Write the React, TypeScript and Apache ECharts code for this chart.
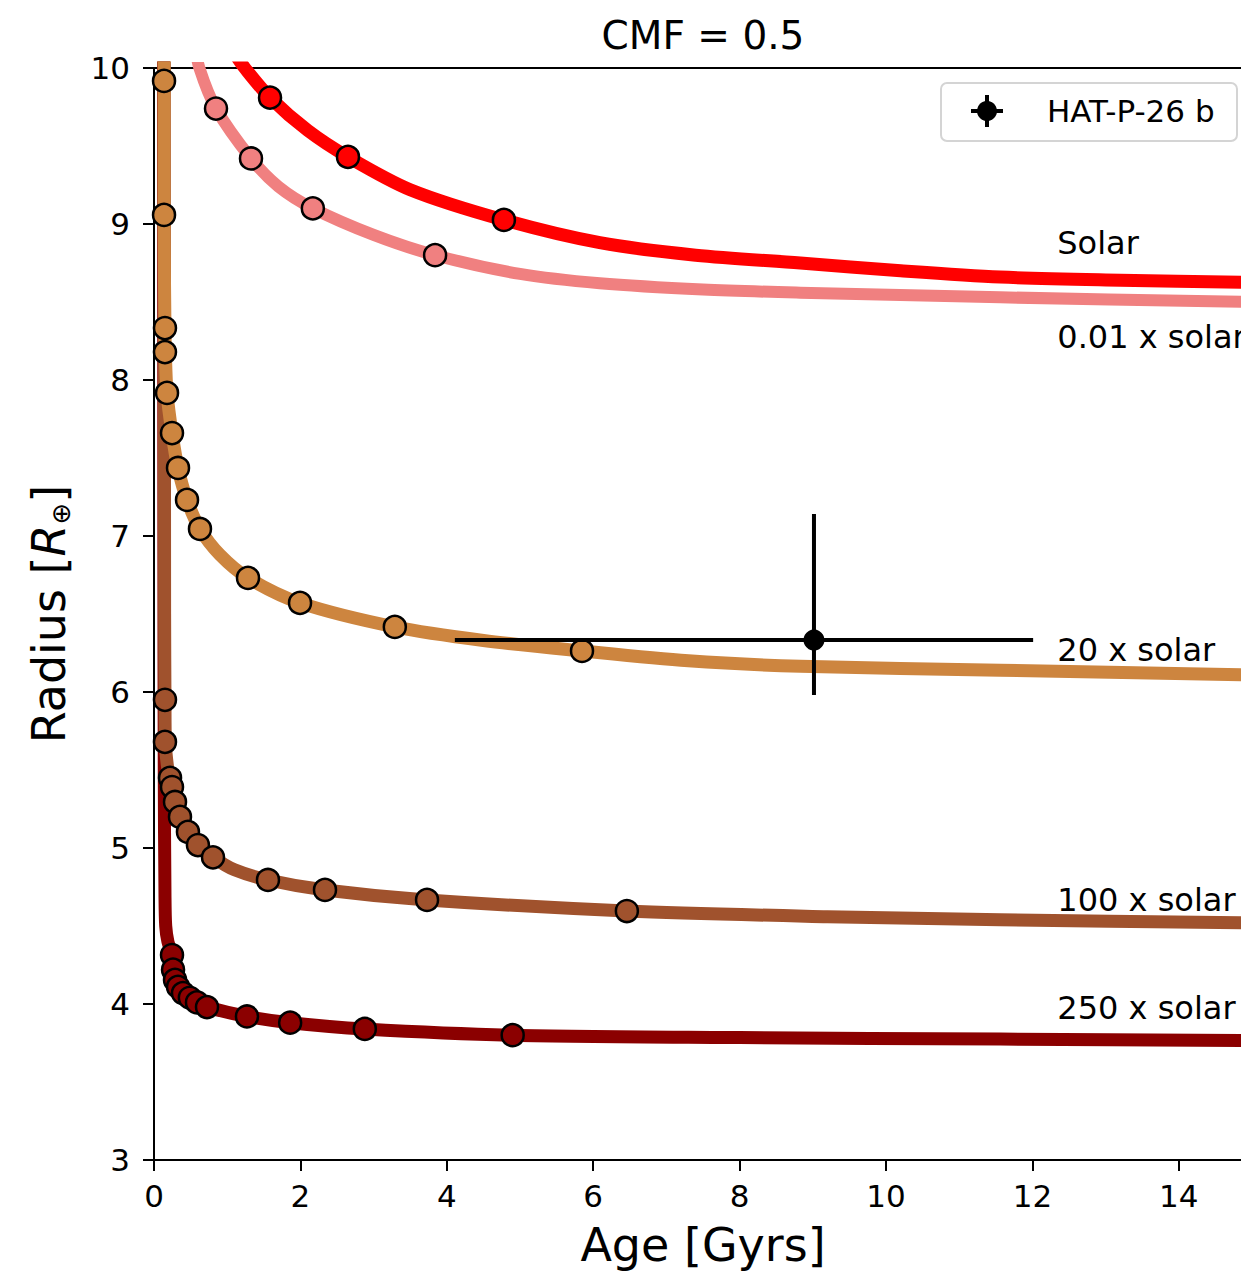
import React, { useEffect, useRef } from 'react';
import * as echarts from 'echarts';

// ---- data ----
const ageTicks = [0, 2, 4, 6, 8, 10, 12, 14];
const radiusTicks = [3, 4, 5, 6, 7, 8, 9, 10];

const curveNames = ['250 x solar', '100 x solar', '20 x solar', '0.01 x solar', 'Solar'];
const curveColors = ['#8b0000', '#a0522d', '#cd853f', '#f08080', '#ff0000'];
const curveWidths = [13, 13, 13, 12, 13];

const line250 = [[0.13, 10.3], [0.135, 7.0], [0.14, 5.5], [0.15, 4.7], [0.16, 4.5], [0.19, 4.4], [0.246, 4.314], [0.26, 4.22], [0.287, 4.154], [0.328, 4.11], [0.396, 4.07], [0.49, 4.04], [0.587, 4.01], [0.724, 3.98], [1.27, 3.92], [1.86, 3.88], [2.88, 3.84], [4.9, 3.8], [8.0, 3.785], [11.56, 3.775], [15, 3.765]];
const line100 = [[0.14, 10.3], [0.143, 8.0], [0.145, 6.5], [0.15, 5.95], [0.155, 5.68], [0.185, 5.52], [0.219, 5.449], [0.246, 5.391], [0.287, 5.295], [0.355, 5.199], [0.464, 5.103], [0.6, 5.019], [0.806, 4.94], [1.1, 4.86], [1.557, 4.795], [2.336, 4.731], [3.73, 4.667], [6.46, 4.596], [9.2, 4.56], [11.56, 4.54], [15, 4.52]];
const line20 = [[0.135, 10.3], [0.137, 9.917], [0.137, 9.058], [0.15, 8.333], [0.155, 8.179], [0.178, 7.917], [0.246, 7.66], [0.328, 7.436], [0.451, 7.231], [0.628, 7.045], [0.9, 6.88], [1.284, 6.731], [1.995, 6.571], [3.29, 6.417], [4.5, 6.33], [5.847, 6.263], [7.3, 6.2], [8.83, 6.165], [11.56, 6.14], [15, 6.11]];
const line001 = [[0.56, 10.15], [0.62, 10.0], [0.847, 9.74], [1.325, 9.42], [1.7, 9.24], [2.17, 9.1], [3.0, 8.93], [3.84, 8.8], [5.0, 8.68], [6.09, 8.62], [7.5, 8.58], [8.83, 8.56], [11.56, 8.53], [15, 8.5]];
const lineSolar = [[1.12, 10.08], [1.24, 10.0], [1.585, 9.81], [2.1, 9.6], [2.65, 9.43], [3.5, 9.22], [4.78, 9.026], [6.09, 8.88], [7.4, 8.8], [8.83, 8.75], [10.2, 8.7], [11.56, 8.66], [13.2, 8.64], [15, 8.625]];

const marks250 = [[0.246, 4.314], [0.26, 4.22], [0.287, 4.154], [0.328, 4.11], [0.396, 4.07], [0.49, 4.04], [0.587, 4.01], [0.724, 3.98], [1.27, 3.92], [1.86, 3.88], [2.88, 3.84], [4.9, 3.8]];
const marks100 = [[0.15, 5.95], [0.15, 5.68], [0.219, 5.449], [0.246, 5.391], [0.287, 5.295], [0.355, 5.199], [0.464, 5.103], [0.6, 5.019], [0.806, 4.94], [1.557, 4.795], [2.336, 4.731], [3.73, 4.667], [6.46, 4.596]];
const marks20 = [[0.137, 9.917], [0.137, 9.058], [0.15, 8.333], [0.15, 8.179], [0.178, 7.917], [0.246, 7.66], [0.328, 7.436], [0.451, 7.231], [0.628, 7.045], [1.284, 6.731], [1.995, 6.571], [3.29, 6.417], [5.847, 6.263]];
const marks001 = [[0.847, 9.74], [1.325, 9.42], [2.17, 9.1], [3.84, 8.8]];
const marksSolar = [[1.585, 9.81], [2.65, 9.43], [4.78, 9.026]];

const curveLines = [line250, line100, line20, line001, lineSolar];
const curveMarks = [marks250, marks100, marks20, marks001, marksSolar];

// label anchor positions [age, radius]
const labelAnchors = [[12.34, 3.974], [12.34, 4.667], [12.34, 6.269], [12.34, 8.276], [12.34, 8.878]];

// planet: [age, radius, ageLow, ageHigh, radiusLow, radiusHigh]
const planetName = 'HAT-P-26 b';
const planet = [9.016, 6.333, 4.11, 12.01, 5.98, 7.141];

const FONT = 'DejaVu Sans';

export default function App() {
  const ref = useRef<HTMLDivElement>(null);
  useEffect(() => {
    if (!ref.current) return;
    const chart = echarts.init(ref.current, null, { renderer: 'svg' });
    const series: any[] = [];
    curveNames.forEach((name, i) => {
      series.push({
        type: 'line',
        name,
        data: curveLines[i],
        showSymbol: false,
        smooth: 0.3,
        clip: true,
        z: 2 + i,
        lineStyle: { color: curveColors[i], width: curveWidths[i], cap: 'round', join: 'round' },
      });
    });
    curveNames.forEach((name, i) => {
      series.push({
        type: 'scatter',
        name: name + ' models',
        data: curveMarks[i],
        symbol: 'circle',
        symbolSize: 22,
        z: 10,
        itemStyle: { color: curveColors[i], borderColor: '#000', borderWidth: 2.5, opacity: 1 },
      });
    });
    series.push({
      type: 'scatter',
      name: 'labels',
      data: labelAnchors.map((p, i) => [p[0], p[1], curveNames[i]]),
      symbolSize: 0,
      itemStyle: { color: '#000', opacity: 1 },
      z: 20,
      label: {
        show: true,
        position: 'right',
        distance: 0,
        opacity: 1,
        formatter: (p: any) => p.data[2],
        fontFamily: FONT,
        fontSize: 32,
        color: '#000',
      },
    });
    series.push({
      type: 'custom',
      name: planetName + ' err',
      data: [planet],
      z: 30,
      renderItem: (params: any, api: any) => {
        const x = api.value(0), y = api.value(1);
        const pL = api.coord([api.value(2), y]);
        const pR = api.coord([api.value(3), y]);
        const pB = api.coord([x, api.value(4)]);
        const pT = api.coord([x, api.value(5)]);
        const st = { stroke: '#000', lineWidth: 4 };
        return {
          type: 'group',
          children: [
            { type: 'line', shape: { x1: pL[0], y1: pL[1], x2: pR[0], y2: pR[1] }, style: st },
            { type: 'line', shape: { x1: pB[0], y1: pB[1], x2: pT[0], y2: pT[1] }, style: st },
          ],
        };
      },
    });
    series.push({
      type: 'scatter',
      name: planetName,
      data: [[planet[0], planet[1]]],
      symbol: 'circle',
      symbolSize: 21,
      z: 31,
      itemStyle: { color: '#000', opacity: 1 },
    });

    const option: any = {
      animation: false,
      backgroundColor: '#fff',
      textStyle: { fontFamily: FONT },
      grid: { left: 154, top: 68, width: 1098, height: 1092, containLabel: false },
      xAxis: [
        {
          type: 'value',
          min: 0,
          max: 15,
          interval: 2,
          name: 'Age [Gyrs]',
          nameLocation: 'middle',
          nameGap: 62,
          nameTextStyle: { fontFamily: FONT, fontSize: 46, color: '#000' },
          axisLine: { show: true, onZero: false, lineStyle: { color: '#000', width: 2 } },
          axisTick: { show: true, length: 11, lineStyle: { color: '#000', width: 2 } },
          axisLabel: {
            fontFamily: FONT, fontSize: 31, color: '#000', margin: 20,
            formatter: (v: number) => (ageTicks.indexOf(v) >= 0 ? String(v) : ''),
          },
          splitLine: { show: false },
        },
        {
          type: 'value',
          min: 0,
          max: 15,
          position: 'top',
          axisLine: { show: true, onZero: false, lineStyle: { color: '#000', width: 2 } },
          axisTick: { show: false },
          axisLabel: { show: false },
          splitLine: { show: false },
        },
      ],
      yAxis: {
        type: 'value',
        min: 3,
        max: 10,
        interval: 1,
        name: '{n|Radius [}{i|R}{s|⊕}{n|]}',
        nameLocation: 'middle',
        nameGap: 80,
        nameTextStyle: {
          fontFamily: FONT,
          fontSize: 46,
          color: '#000',
          rich: {
            n: { fontFamily: FONT, fontSize: 46, color: '#000', lineHeight: 50 },
            i: { fontFamily: FONT, fontSize: 46, fontStyle: 'italic', color: '#000', lineHeight: 50 },
            s: { fontFamily: FONT, fontSize: 26, color: '#000', verticalAlign: 'bottom', lineHeight: 26 },
          },
        },
        axisLine: { show: true, onZero: false, lineStyle: { color: '#000', width: 2 } },
        axisTick: { show: true, length: 11, lineStyle: { color: '#000', width: 2 } },
        axisLabel: {
          fontFamily: FONT, fontSize: 31, color: '#000', margin: 24,
          formatter: (v: number) => (radiusTicks.indexOf(v) >= 0 ? String(v) : ''),
        },
        splitLine: { show: false },
      },
      graphic: [
        {
          type: 'text', x: 703, y: 35,
          style: { text: 'CMF = 0.5', fontFamily: FONT, fontSize: 39, fill: '#000', align: 'center', verticalAlign: 'middle' },
        },
        {
          type: 'group', z: 100,
          children: [
            { type: 'rect', shape: { x: 941, y: 83, width: 296, height: 58, r: 6 }, style: { fill: '#fff', stroke: '#d4d4d4', lineWidth: 2 } },
            { type: 'line', shape: { x1: 971, y1: 111, x2: 1003, y2: 111 }, style: { stroke: '#000', lineWidth: 4 } },
            { type: 'line', shape: { x1: 987, y1: 95, x2: 987, y2: 127 }, style: { stroke: '#000', lineWidth: 4 } },
            { type: 'circle', shape: { cx: 987, cy: 111, r: 10 }, style: { fill: '#000' } },
            { type: 'text', x: 1047, y: 111, style: { text: planetName, fontFamily: FONT, fontSize: 31, fill: '#000', align: 'left', verticalAlign: 'middle' } },
          ],
        },
      ],
      series,
    };
    chart.setOption(option);
    return () => chart.dispose();
  }, []);
  return (
    <div style={{ position: 'fixed', left: 0, top: 0, width: 1241, height: 1277, overflow: 'hidden', background: '#fff' }}>
      <div ref={ref} style={{ width: 1300, height: 1277 }} />
    </div>
  );
}
